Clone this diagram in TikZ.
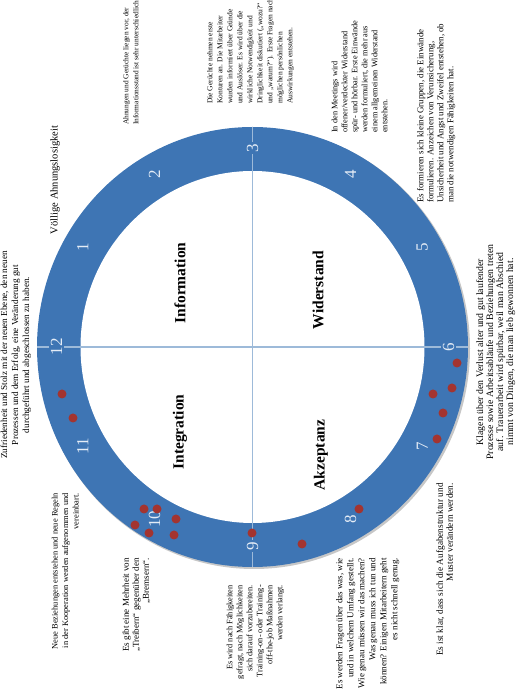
\documentclass[tikz,border=0pt]{standalone}
\usepackage{fontspec}
\setmainfont{Liberation Serif}
\usetikzlibrary{positioning}
\definecolor{ringblue}{RGB}{62,117,180}
\definecolor{axisblue}{RGB}{157,186,217}
\definecolor{dotred}{RGB}{163,52,48}
\definecolor{hourwhite}{RGB}{228,236,246}

\tikzset{
  note/.style={rotate=90, inner sep=0pt, font=\fontsize{#1}{10}\selectfont},
  note/.default=8.5,
  phase/.style={rotate=90, inner sep=0pt, font=\fontsize{15.5}{18}\selectfont\bfseries},
  hour/.style={rotate=90, text=hourwhite, fill=ringblue, inner sep=1.5pt, font=\fontsize{17}{17}\selectfont},
  marker/.style={circle, fill=dotred, inner sep=0pt, minimum size=9pt}
}

\begin{document}
\begin{tikzpicture}[x=1pt,y=1pt]
\useasboundingbox (0,0) rectangle (520,691);

% Ring with a soft shadow
\coordinate (c) at (252.5,344);
\fill[black!22] ([shift={(1.5,-1.5)}]c) circle [x radius=216, y radius=220.5];
\fill[ringblue] (c) circle [x radius=215.5, y radius=220];
\fill[white] (c) circle [x radius=172, y radius=176];

% Axes 12--6 and 3--9
\coordinate (e12) at ([xshift=-215.5]c);
\coordinate (e6) at ([xshift=215.5]c);
\coordinate (e3) at ([yshift=220]c);
\coordinate (e9) at ([yshift=-220]c);
\draw[axisblue, line width=1.5pt] (e12) -- (e6);
\draw[axisblue, line width=1.5pt] (e3) -- (e9);

% Clock hours
\foreach \n in {1,...,12} {
  \node[hour] (h\n) at ([shift={({196*cos(180-30*\n)},{199*sin(180-30*\n)})}]c) {\n};
}

% Phases
\node[phase] (info) at (180,408) {Information};
\node[phase] (wider) at (318,401) {Widerstand};
\node[phase] (integ) at (180,259) {Integration};
\node[phase] (akzep) at (321,236) {Akzeptanz};

% Red markers
\foreach \x/\y [count=\i] in {62/297, 73/273, 457/328, 452/303, 433/297, 443/278, 437/252,
    359/182, 302/147, 252/158, 144/182, 157/182, 176/172, 135/166, 149/158, 174/156} {
  \node[marker] (m\i) at (\x,\y) {};
}

% Notes round the ring
\node[note=10.5] (n0) at (55,511) {Völlige Ahnungslosigkeit};
\node[note=7.4, anchor=north west, align=left] (n1) at (123,566)
  {Ahnungen und Gerüchte liegen vor, der\\Informationsstand ist sehr unterschiedlich};
\node[note=7.5, anchor=north west, align=left] (n2) at (207,587)
  {Die Gerüchte nehmen erste\\Konturen an. Die Mitarbeiter\\wurden informiert über Gründe\\und Auslöser. Es wird über die\\wirkliche Notwendigkeit und\\Dringlichkeit diskutiert („wozu?“\\und „warum?“). Erste Fragen nach\\möglichen persönlichen\\Auswirkungen entstehen.};
\node[note=8.3, anchor=north west, align=left] (n3) at (331.5,558)
  {In den Meetings wird\\offener/verdeckter Widerstand\\spür- und hörbar. Erste Einwände\\werden formuliert, die mehr aus\\einem allgemeinen Widerstand\\entstehen.};
\node[note=8.9, anchor=north west, align=left] (n4) at (417,488)
  {Es formieren sich kleine Gruppen, die Einwände\\formulieren. Anzeichen von Verunsicherung,\\Unsicherheit und Angst und Zweifel entstehen, ob\\man die notwendigen Fähigkeiten hat.};
\node[note=9.8, anchor=north, align=center] (n5) at (476,339)
  {Klagen über den Verlust alter und gut laufender\\Prozesse sowie Arbeitsabläufe und Beziehungen treten\\auf. Trauerarbeit wird spürbar, weil man Abschied\\nimmt von Dingen, die man lieb gewonnen hat.};
\node[note=9.3, anchor=north east, align=right] (n6) at (436,208)
  {Es ist klar, dass sich die Aufgabenstruktur und\\Muster verändern werden.};
\node[note=9, anchor=north east, align=right, font=\fontsize{9}{11}\selectfont] (n7) at (336,133)
  {Es werden Fragen über das was, wie\\und in welchem Umfang gestellt.\\Wie genau müssen wir das machen?\\Was genau muss ich tun und\\können? Einigen Mitarbeitern geht\\es nicht schnell genug.};
\node[note=8.3, anchor=north east, align=right] (n8) at (226.5,106)
  {Es wird nach Fähigkeiten\\gefragt, nach Möglichkeiten\\sich darauf vorzubereiten.\\Training-on- oder Training-\\off-the-job Maßnahmen\\werden verlangt.};
\node[note=9, anchor=north east, align=right] (n9) at (122.5,133)
  {Es gibt eine Mehrheit von\\„Treibern“ gegenüber den\\„Bremsern“.};
\node[note=8.4, anchor=north east, align=right, font=\fontsize{8.4}{10.5}\selectfont] (n10) at (51.5,198)
  {Neue Beziehungen entstehen und neue Regeln\\in der Kooperation werden aufgenommen und\\vereinbart.};
\node[note=9.2, anchor=north, align=center, font=\fontsize{9.2}{11}\selectfont] (n11) at (0.5,336)
  {Zufriedenheit und Stolz mit der neuen Ebene, den neuen\\Prozessen und dem Erfolg, eine Veränderung gut\\durchgeführt und abgeschlossen zu haben.};

\end{tikzpicture}
\end{document}
